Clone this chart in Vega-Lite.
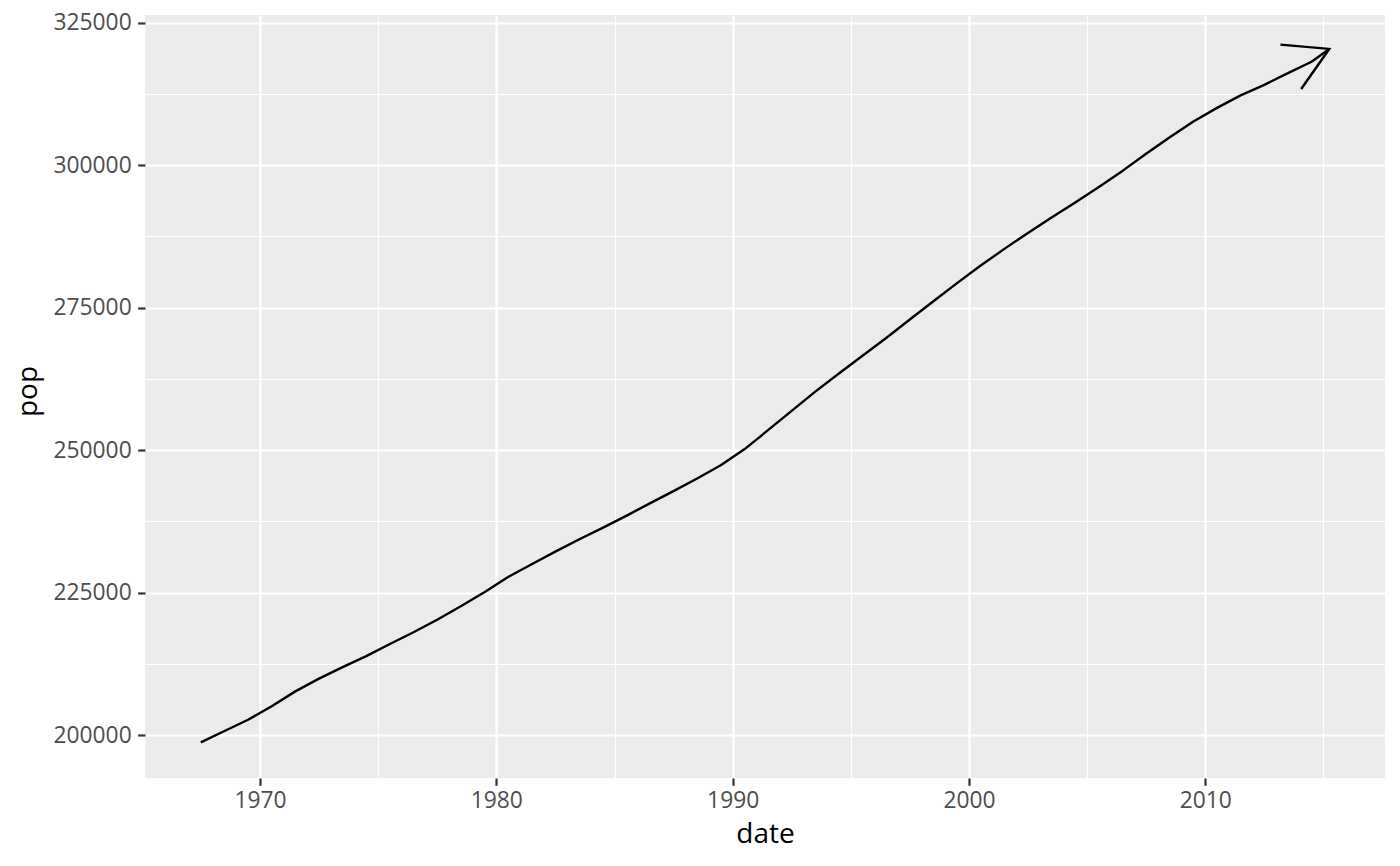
{
  "$schema": "https://vega.github.io/schema/vega-lite/v6.json",
  "autosize": {"type": "none"},
  "width": 1240,
  "height": 763,
  "padding": {"left": 145, "top": 15, "right": 15, "bottom": 88},
  "background": "#FFFFFF",
  "config": {
    "view": {"fill": "#EBEBEB", "stroke": null},
    "font": "Open Sans"
  },
  "data": {
    "values": [
      {"date": "1967-07-01", "pop": 198712},
      {"date": "1968-07-01", "pop": 200706},
      {"date": "1969-07-01", "pop": 202677},
      {"date": "1970-07-01", "pop": 205052},
      {"date": "1971-07-01", "pop": 207661},
      {"date": "1972-07-01", "pop": 209896},
      {"date": "1973-07-01", "pop": 211909},
      {"date": "1974-07-01", "pop": 213854},
      {"date": "1975-07-01", "pop": 215973},
      {"date": "1976-07-01", "pop": 218035},
      {"date": "1977-07-01", "pop": 220239},
      {"date": "1978-07-01", "pop": 222585},
      {"date": "1979-07-01", "pop": 225055},
      {"date": "1980-07-01", "pop": 227726},
      {"date": "1981-07-01", "pop": 229966},
      {"date": "1982-07-01", "pop": 232188},
      {"date": "1983-07-01", "pop": 234307},
      {"date": "1984-07-01", "pop": 236348},
      {"date": "1985-07-01", "pop": 238466},
      {"date": "1986-07-01", "pop": 240651},
      {"date": "1987-07-01", "pop": 242804},
      {"date": "1988-07-01", "pop": 245021},
      {"date": "1989-07-01", "pop": 247342},
      {"date": "1990-07-01", "pop": 250132},
      {"date": "1991-07-01", "pop": 253493},
      {"date": "1992-07-01", "pop": 256894},
      {"date": "1993-07-01", "pop": 260255},
      {"date": "1994-07-01", "pop": 263436},
      {"date": "1995-07-01", "pop": 266557},
      {"date": "1996-07-01", "pop": 269667},
      {"date": "1997-07-01", "pop": 272912},
      {"date": "1998-07-01", "pop": 276115},
      {"date": "1999-07-01", "pop": 279295},
      {"date": "2000-07-01", "pop": 282385},
      {"date": "2001-07-01", "pop": 285309},
      {"date": "2002-07-01", "pop": 288105},
      {"date": "2003-07-01", "pop": 290820},
      {"date": "2004-07-01", "pop": 293463},
      {"date": "2005-07-01", "pop": 296186},
      {"date": "2006-07-01", "pop": 298996},
      {"date": "2007-07-01", "pop": 302004},
      {"date": "2008-07-01", "pop": 304898},
      {"date": "2009-07-01", "pop": 307650},
      {"date": "2010-07-01", "pop": 310050},
      {"date": "2011-07-01", "pop": 312250},
      {"date": "2012-07-01", "pop": 314100},
      {"date": "2013-07-01", "pop": 316150},
      {"date": "2014-07-01", "pop": 318150},
      {"date": "2015-04-01", "pop": 320400}
    ]
  },
  "encoding": {
    "x": {
      "field": "date",
      "type": "temporal",
      "scale": {"type": "utc", "domain": [-153570000000, 1502260000000], "nice": false},
      "axis": {
        "title": "date",
        "values": [0, 157766400000, 315532800000, 473385600000, 631152000000, 788918400000, 946684800000, 1104537600000, 1262304000000, 1420070400000],
        "format": "%Y",
        "labelExpr": "utcyear(datum.value) % 10 == 5 ? '' : datum.label",
        "domain": false,
        "grid": true,
        "gridColor": "#FFFFFF",
        "gridOpacity": 1,
        "gridWidth": {"condition": {"test": "utcyear(datum.value) % 10 == 5", "value": 1.1}, "value": 2.2},
        "ticks": true,
        "tickOpacity": {"condition": {"test": "utcyear(datum.value) % 10 == 5", "value": 0}, "value": 1},
        "tickColor": "#333333",
        "tickWidth": 2.2,
        "tickSize": 7.3,
        "labelColor": "#4D4D4D",
        "labelFont": "Open Sans",
        "labelFontSize": 22.8,
        "labelPadding": 4.5,
        "labelFlush": false,
        "labelOverlap": false,
        "labelBound": false,
        "titleFont": "Open Sans",
        "titleFontSize": 28,
        "titleFontWeight": "normal",
        "titleColor": "#000000",
        "titleBaseline": "alphabetic",
        "titleY": 64
      }
    },
    "y": {
      "field": "pop",
      "type": "quantitative",
      "scale": {"domain": [192460, 326350], "nice": false, "zero": false},
      "axis": {
        "title": "pop",
        "values": [200000, 212500, 225000, 237500, 250000, 262500, 275000, 287500, 300000, 312500, 325000],
        "format": "d",
        "labelExpr": "datum.value % 25000 == 0 ? datum.label : ''",
        "domain": false,
        "grid": true,
        "gridColor": "#FFFFFF",
        "gridOpacity": 1,
        "gridWidth": {"condition": {"test": "datum.value % 25000 != 0", "value": 1.1}, "value": 2.2},
        "ticks": true,
        "tickOpacity": {"condition": {"test": "datum.value % 25000 != 0", "value": 0}, "value": 1},
        "tickColor": "#333333",
        "tickWidth": 2.2,
        "tickSize": 7.3,
        "labelColor": "#4D4D4D",
        "labelFont": "Open Sans",
        "labelFontSize": 22.8,
        "labelPadding": 6.5,
        "labelFlush": false,
        "labelOverlap": false,
        "labelBound": false,
        "titleFont": "Open Sans",
        "titleFontSize": 28,
        "titleFontWeight": "normal",
        "titleColor": "#000000",
        "titleAngle": 270,
        "titleBaseline": "alphabetic",
        "titleX": -109,
        "titleY": 376
      }
    }
  },
  "layer": [
    {
      "mark": {"type": "line", "color": "#000000", "strokeWidth": 2.4, "strokeJoin": "round", "strokeCap": "butt"}
    },
    {
      "transform": [{"filter": "datum.pop > 320000"}],
      "mark": {
        "type": "point",
        "shape": "M -0.866 -0.5 L 0 0 L -0.866 0.5",
        "filled": false,
        "fill": null,
        "stroke": "#000000",
        "strokeWidth": 2.4,
        "strokeJoin": "miter",
        "opacity": 1,
        "size": 9604,
        "angle": 335
      }
    }
  ]
}
